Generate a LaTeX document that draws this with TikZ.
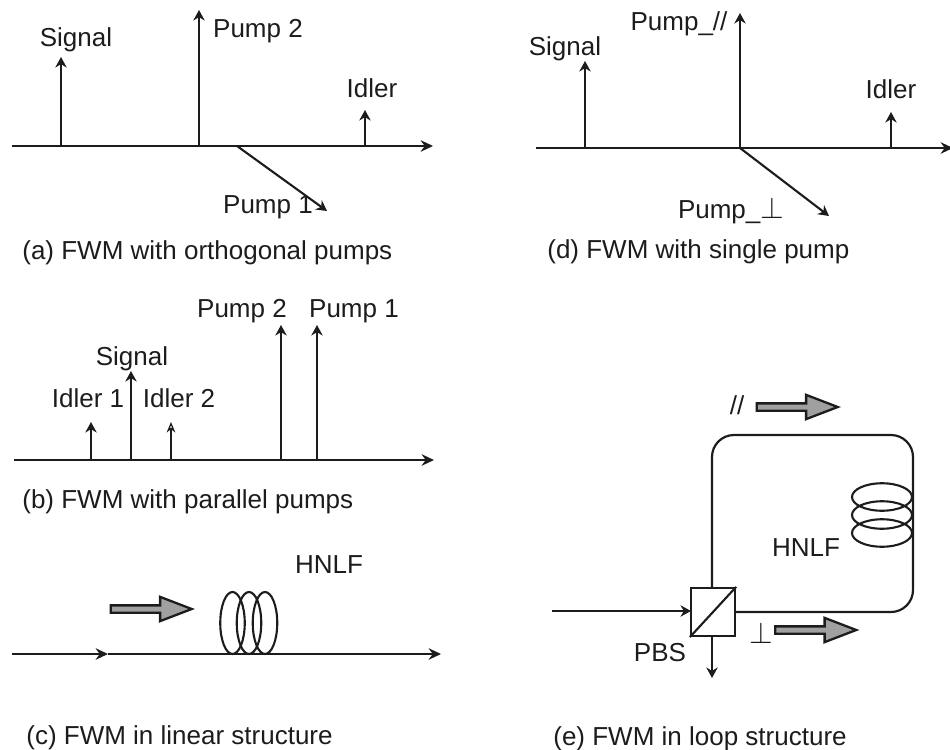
\documentclass[tikz,border=0pt]{standalone}
\usepackage{fontspec}
\setmainfont{Liberation Sans}
\usepackage{xcolor}
\usetikzlibrary{positioning,arrows.meta,shapes.geometric,shapes.arrows}
\definecolor{InkDark}{HTML}{1C1C1C}
\definecolor{FatGray}{HTML}{A0A0A0}

\begin{document}
\begin{tikzpicture}[x=0.02cm,y=-0.02cm,
          every node/.style={font=\fontsize{14.8}{17}\selectfont,text=InkDark},
          ax/.style={-{Stealth[length=7pt,width=6.5pt]},line width=1.25pt,InkDark},
          sp/.style={-{Stealth[length=6pt,width=6.5pt]},line width=1.2pt,InkDark},
          spopen/.style={-{Stealth[length=6pt,width=5pt,open]},line width=0.7pt,InkDark},
          capt/.style={anchor=west,inner sep=0pt},
          fat/.style={single arrow,draw=InkDark,fill=FatGray,line width=1.3pt,inner sep=0pt,
            inner ysep=0.05cm,minimum height=1.62cm,single arrow head extend=0.17cm,
            single arrow tip angle=42},
          coilv/.style={ellipse,draw=InkDark,line width=1.2pt,inner sep=0pt,
            minimum width=0.49cm,minimum height=1.24cm},
          coilh/.style={ellipse,draw=InkDark,line width=1.2pt,inner sep=0pt,
            minimum width=1.2cm,minimum height=0.55cm}]
        \useasboundingbox (0,0) rectangle (950,750);

        % (a) orthogonal pumps
        \coordinate (a0) at (12,146); \coordinate (a1) at (433,146);
        \coordinate (as) at (61,146); \coordinate (ast) at (61,57);
        \coordinate (ap) at (199,146); \coordinate (apt) at (199,10);
        \coordinate (ai) at (365,146); \coordinate (ait) at (365,110);
        \coordinate (aq) at (237,146); \coordinate (aqt) at (327,211);
        \draw[ax](a0)--(a1); \draw[sp](as)--(ast); \draw[sp](ap)--(apt);
        \draw[sp](ai)--(ait); \draw[sp](aq)--(aqt);
        \node (lasig) at (76,40) {Signal};
        \node (lap2) at (258,31) {Pump 2};
        \node (laid) at (372,88) {Idler};
        \node (lap1) at (268,207) {Pump 1};
        \node[capt] (capa) at (22,253) {(a) FWM with orthogonal pumps};

        % (d) single pump
        \coordinate (d0) at (536,148); \coordinate (d1) at (953,148);
        \coordinate (ds) at (585,148); \coordinate (dst) at (585,61);
        \coordinate (dp) at (740,148); \coordinate (dpt) at (740,13);
        \coordinate (di) at (891,148); \coordinate (dit) at (891,112);
        \coordinate (dqt) at (829,216);
        \draw[ax](d0)--(d1); \draw[sp](ds)--(dst); \draw[sp](dp)--(dpt);
        \draw[sp](di)--(dit); \draw[sp](dp)--(dqt);
        \node (ldsig) at (565,49) {Signal};
        \node (ldpar) at (679,24) {Pump\_//};
        \node (ldid) at (891,89) {Idler};
        \node (ldper) at (731,211) {Pump\_{\fontsize{17}{17}\selectfont$\perp$}};
        \node[capt] (capd) at (547,252) {(d) FWM with single pump};

        % (b) parallel pumps
        \coordinate (b0) at (14,460); \coordinate (b1) at (434,460);
        \coordinate (bi1) at (91,460); \coordinate (bi1t) at (91,422);
        \coordinate (bs) at (131,460); \coordinate (bst) at (131,371);
        \coordinate (bi2) at (171,460); \coordinate (bi2t) at (171,422);
        \coordinate (bp2) at (281,460); \coordinate (bp2t) at (281,325);
        \coordinate (bp1) at (317,460); \coordinate (bp1t) at (317,325);
        \draw[ax](b0)--(b1); \draw[sp](bi1)--(bi1t); \draw[sp](bs)--(bst);
        \draw[spopen](bi2)--(bi2t); \draw[sp](bp2)--(bp2t); \draw[sp](bp1)--(bp1t);
        \node (lbsig) at (132,359) {Signal};
        \node (lbi1) at (88,398) {Idler 1};
        \node (lbi2) at (179,398) {Idler 2};
        \node (lbp2) at (242,311) {Pump 2};
        \node (lbp1) at (354,311) {Pump 1};
        \node[capt] (capb) at (22,502) {(b) FWM with parallel pumps};

        % (c) linear structure
        \coordinate (c0) at (12,654); \coordinate (cm) at (108,654);
        \coordinate (c1) at (441,654);
        \draw[ax](c0)--(cm); \draw[ax](cm)--(c1);
        \node[fat] (cfat) at (146.5,609) {};
        \node[coilv] (cc1) at (232.5,623) {};
        \node[coilv] (cc2) at (249,623) {};
        \node[coilv] (cc3) at (265,623) {};
        \node (lchn) at (329,565) {HNLF};
        \node[capt] (capc) at (26,738) {(c) FWM in linear structure};

        % (e) loop structure
        \node[draw=InkDark,line width=1.3pt,minimum width=0.88cm,minimum height=0.96cm,
          inner sep=0pt] (pbs) at (713,612) {};
        \draw[line width=1.2pt,InkDark](pbs.south west)--(pbs.north east);
        \coordinate (etl) at (712,435); \coordinate (etr) at (913,435);
        \coordinate (ebr) at (913,612); \coordinate (ebl) at (pbs.east);
        \coordinate (eup) at (712,588);
        \coordinate (ein) at (552,611); \coordinate (ein1) at (691,611);
        \coordinate (edn) at (712,636); \coordinate (edn1) at (712,678);
        \draw[line width=1.25pt,InkDark,rounded corners=0.44cm](eup)--(etl)--(etr)--(ebr)--(ebl);
        \draw[sp](ein)--(ein1); \draw[sp](edn)--(edn1);
        \node[coilh] (ec1) at (882,497) {};
        \node[coilh] (ec2) at (882,515) {};
        \node[coilh] (ec3) at (882,533) {};
        \node (lehn) at (806,548) {HNLF};
        \node (lepb) at (660,653) {PBS};
        \node (lepar) at (737,405) {//};
        \node[fat] (efat1) at (792.5,407) {};
        \node[font=\fontsize{19}{19}\selectfont] (leper) at (761,633) {$\perp$};
        \node[fat] (efat2) at (811,630) {};
        \node[capt] (cape) at (553,739) {(e) FWM in loop structure};
      \end{tikzpicture}
\end{document}
